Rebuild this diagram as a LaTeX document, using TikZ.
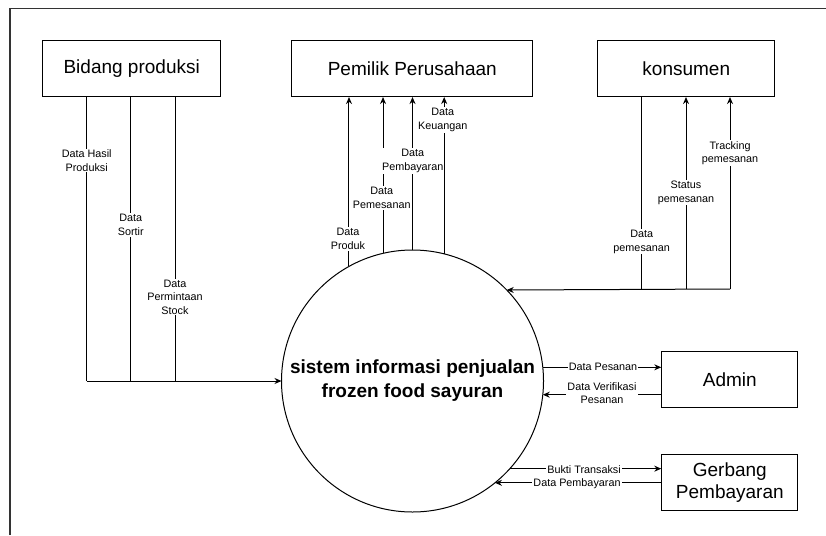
\documentclass[tikz,border=0pt]{standalone}
\usepackage{fontspec}
\setmainfont{Liberation Sans}
\usetikzlibrary{arrows.meta}
\begin{document}
\begin{tikzpicture}[x=1pt,y=-1pt,
  entity/.style={draw, line width=1.1pt, minimum height=56pt, inner sep=0pt, font=\fontsize{19}{22}\selectfont, align=center},
  proc/.style={draw, circle, line width=1pt, minimum size=262pt, inner sep=0pt, outer sep=0pt, font=\fontsize{19}{24}\selectfont\bfseries, align=center},
  flow/.style={line width=1pt},
  arr/.style={line width=1pt, -{Stealth[length=7pt,width=6pt]}},
  lbl/.style={fill=white, inner sep=1pt, font=\fontsize{10.8}{13.5}\selectfont, align=center}
]
\useasboundingbox (0,0) rectangle (826,535);
% frame
\draw[line width=1.1pt, black!80] (10,535) -- (10,8.3) -- (826,8.3);

% entities
\node[entity, minimum width=178pt] (bp) at (131.7,68.5) {Bidang produksi};
\node[entity, minimum width=241pt] (pp) at (412.3,68.5) {Pemilik Perusahaan};
\node[entity, minimum width=177pt] (ks) at (686.3,68.5) {konsumen};
\node[entity, minimum width=136pt] (ad) at (729.8,379.8) {Admin};
\node[entity, minimum width=136pt] (gb) at (729.8,482.3) {Gerbang\\Pembayaran};

% process
\node[proc] (c) at (412.5,381) {sistem informasi penjualan\\frozen food sayuran};

% Bidang produksi flows
\coordinate (b1) at (86.7,381);
\coordinate (b2) at (130.7,381);
\coordinate (b3) at (175,381);
\draw[flow] (bp.south -| b1) -- (b1);
\draw[flow] (bp.south -| b2) -- (b2);
\draw[flow] (bp.south -| b3) -- (b3);
\draw[arr] (b1) -- (c.west);
\node[lbl] (l1) at (86.7,160.7) {Data Hasil\\Produksi};
\node[lbl] (l2) at (130.7,225) {Data\\Sortir};
\node[lbl] (l3) at (175,297) {Data\\Permintaan\\Stock};

% Pemilik Perusahaan flows
\draw[arr] (c.119.5) -- (c.119.5 |- pp.south);
\draw[arr] (c.103.6) -- (c.103.6 |- pp.south);
\draw[arr] (c.90) -- (c.90 |- pp.south);
\draw[arr] (c.76.7) -- (c.76.7 |- pp.south);
\node[lbl] (l4) at (348,239) {Data\\Produk};
\node[lbl] (l5) at (381.7,198) {Data\\Pemesanan};
\node[lbl] (l6) at (412.7,161) {Data\\Pembayaran};
\node[lbl] (l7) at (442.7,120) {Data\\Keuangan};

% konsumen flows
\coordinate (k1) at (641.7,289);
\coordinate (k2) at (686,289);
\coordinate (k3) at (730,289);
\draw[flow] (ks.south -| k1) -- (k1);
\draw[arr] (k3) -- (c.44.6);
\draw[arr] (k2) -- (ks.south -| k2);
\draw[arr] (k3) -- (ks.south -| k3);
\node[lbl] (l8) at (641.7,241.7) {Data\\pemesanan};
\node[lbl] (l9) at (686,192.7) {Status\\pemesanan};
\node[lbl] (l10) at (730,153) {Tracking\\pemesanan};

% Admin flows
\draw[arr] (c.6.3) -- (c.6.3 -| ad.west);
\draw[arr] (ad.west |- c.-6.1) -- (c.-6.1);
\node[lbl] (l11) at (603,366.7) {Data Pesanan};
\node[lbl] (l12) at (602,393) {Data Verifikasi\\Pesanan};

% Gerbang flows
\draw[arr] (c.-42.8) -- (c.-42.8 -| gb.west);
\draw[arr] (gb.west |- c.-51.8) -- (c.-51.8);
\node[lbl] (l13) at (584,470) {Bukti Transaksi};
\node[lbl] (l14) at (577,484) {Data Pembayaran};
\end{tikzpicture}
\end{document}
